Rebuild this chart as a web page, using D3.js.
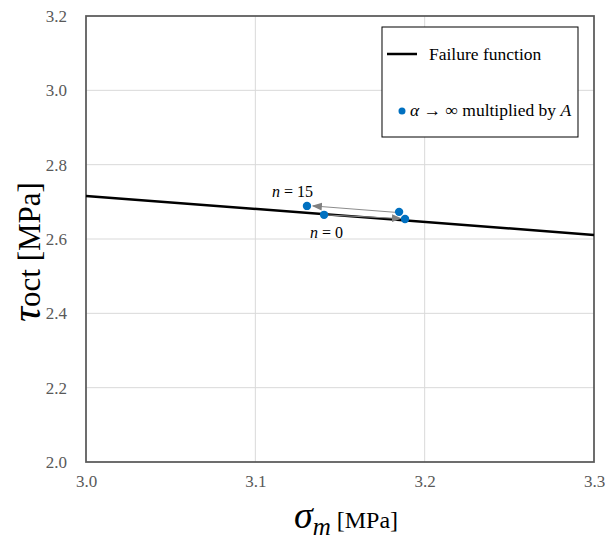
<!DOCTYPE html>
<html>
<head>
<meta charset="utf-8">
<script src="https://cdn.jsdelivr.net/npm/d3@7"></script>
<style>
  body { margin: 0; background: #fff; }
</style>
</head>
<body>
<div id="chart"></div>
<script>
// Chart data
const xTicks = [3.0, 3.1, 3.2, 3.3];
const yTicks = [2.0, 2.2, 2.4, 2.6, 2.8, 3.0, 3.2];
const failureX = [3.0, 3.3];
const failureY = [2.716, 2.611];
const pointX = [3.1305, 3.1406, 3.1849, 3.1884];
const pointY = [2.689, 2.665, 2.673, 2.654];
// arrows: [x1, y1, x2, y2]
const arrows = [
    [3.1849, 2.671, 3.134, 2.689],
    [3.1406, 2.665, 3.186, 2.655]
];
const labels = [
    { n: "15", x: 3.1305, y: 2.689 },
    { n: "0", x: 3.1406, y: 2.665 }
];

const serif = "'Liberation Serif'";
const width = 605, height = 544;
const margins = { top: 16, right: 11, bottom: 82, left: 86 };
const innerW = width - margins.left - margins.right;
const innerH = height - margins.top - margins.bottom;

const svg = d3.select("#chart").append("svg")
    .attr("width", width)
    .attr("height", height);

const defs = svg.append("defs");
defs.append("marker")
    .attr("id", "arrow")
    .attr("viewBox", "0 0 10 10")
    .attr("refX", 9)
    .attr("refY", 5)
    .attr("markerWidth", 10)
    .attr("markerHeight", 10)
    .attr("markerUnits", "userSpaceOnUse")
    .attr("orient", "auto")
    .append("path")
    .attr("d", "M0,1 L10,5 L0,9 z")
    .attr("fill", "#808080");

const g = svg.append("g")
    .attr("transform", `translate(${margins.left},${margins.top})`);

const xScale = d3.scaleLinear().domain([3.0, 3.3]).range([0, innerW]);
const yScale = d3.scaleLinear().domain([2.0, 3.2]).range([innerH, 0]);

// Gridlines
g.append("g").selectAll("line")
    .data(xTicks.slice(1, -1))
    .enter().append("line")
    .attr("x1", d => xScale(d)).attr("x2", d => xScale(d))
    .attr("y1", 0).attr("y2", innerH)
    .attr("stroke", "#d9d9d9").attr("stroke-width", 1);

g.append("g").selectAll("line")
    .data(yTicks.slice(1, -1))
    .enter().append("line")
    .attr("x1", 0).attr("x2", innerW)
    .attr("y1", d => yScale(d)).attr("y2", d => yScale(d))
    .attr("stroke", "#d9d9d9").attr("stroke-width", 1);

// Axes (tick labels only)
const xAxis = g.append("g")
    .attr("transform", `translate(0,${innerH})`)
    .call(d3.axisBottom(xScale).tickValues(xTicks).tickFormat(d3.format(".1f")).tickSize(0).tickPadding(13));
const yAxis = g.append("g")
    .call(d3.axisLeft(yScale).tickValues(yTicks).tickFormat(d3.format(".1f")).tickSize(0).tickPadding(19));
[xAxis, yAxis].forEach(a => {
    a.select(".domain").remove();
    a.selectAll("text")
        .style("font-family", serif)
        .style("font-size", "17px")
        .attr("fill", "#595959");
});

// Plot frame
g.append("rect")
    .attr("x", 0).attr("y", 0)
    .attr("width", innerW).attr("height", innerH)
    .attr("fill", "none")
    .attr("stroke", "#595959")
    .attr("stroke-width", 1.75);

// Failure function
const line = d3.line().x(d => xScale(d[0])).y(d => yScale(d[1]));
g.append("path")
    .datum(failureX.map((x, i) => [x, failureY[i]]))
    .attr("d", line)
    .attr("fill", "none")
    .attr("stroke", "#000")
    .attr("stroke-width", 2.5);

// Arrows
g.append("g").selectAll("line")
    .data(arrows)
    .enter().append("line")
    .attr("x1", d => xScale(d[0])).attr("y1", d => yScale(d[1]))
    .attr("x2", d => xScale(d[2])).attr("y2", d => yScale(d[3]))
    .attr("stroke", "#8c8c8c")
    .attr("stroke-width", 1)
    .attr("marker-end", "url(#arrow)");

// Points
g.append("g").selectAll("circle")
    .data(pointX.map((x, i) => [x, pointY[i]]))
    .enter().append("circle")
    .attr("cx", d => xScale(d[0]))
    .attr("cy", d => yScale(d[1]))
    .attr("r", 4.2)
    .attr("fill", "#0070c0");

// n labels
const lab = g.append("g").selectAll("text")
    .data(labels)
    .enter().append("text")
    .attr("x", (d, i) => xScale(d.x) + (i === 0 ? 6 : 2.5))
    .attr("y", (d, i) => yScale(d.y) + (i === 0 ? -9 : 23))
    .attr("text-anchor", (d, i) => i === 0 ? "end" : "middle")
    .style("font-family", serif)
    .style("font-size", "16px")
    .attr("fill", "#000");
lab.append("tspan").style("font-style", "italic").text("n");
lab.append("tspan").text(d => " = " + d.n);

// Legend
const legend = svg.append("g")
    .attr("transform", `translate(${margins.left + xScale(3.1748)},${margins.top + 11})`);
legend.append("rect")
    .attr("width", 196).attr("height", 110)
    .attr("fill", "#fff")
    .attr("stroke", "#000")
    .attr("stroke-width", 1);
legend.append("line")
    .attr("x1", 5).attr("x2", 35)
    .attr("y1", 27).attr("y2", 27)
    .attr("stroke", "#000").attr("stroke-width", 2.5);
legend.append("text")
    .attr("x", 47).attr("y", 33)
    .style("font-family", serif)
    .style("font-size", "17.5px")
    .text("Failure function");
legend.append("circle")
    .attr("cx", 20).attr("cy", 84).attr("r", 3.5)
    .attr("fill", "#0070c0");
const legText = legend.append("text")
    .attr("x", 28).attr("y", 89)
    .style("font-family", serif)
    .style("font-size", "17.5px");
legText.append("tspan").style("font-style", "italic").text("α");
legText.append("tspan").text(" → ∞ multiplied by ");
legText.append("tspan").style("font-style", "italic").text("A");

// X axis label
const xl = svg.append("text")
    .attr("x", 346).attr("y", 528)
    .attr("text-anchor", "middle")
    .style("font-family", serif);
xl.append("tspan").style("font-style", "italic").style("font-size", "38px").text("σ");
xl.append("tspan").style("font-style", "italic").style("font-size", "25px").attr("dy", 7).text("m");
xl.append("tspan").style("font-size", "24px").attr("dy", -7).text(" [MPa]");

// Y axis label
const yl = svg.append("text")
    .attr("transform", `translate(40,252) rotate(-90)`)
    .attr("text-anchor", "middle")
    .style("font-family", serif);
yl.append("tspan").style("font-style", "italic").style("font-size", "42px").text("τ");
yl.append("tspan").style("font-size", "31px").text("oct [MPa]");
</script>
</body>
</html>
